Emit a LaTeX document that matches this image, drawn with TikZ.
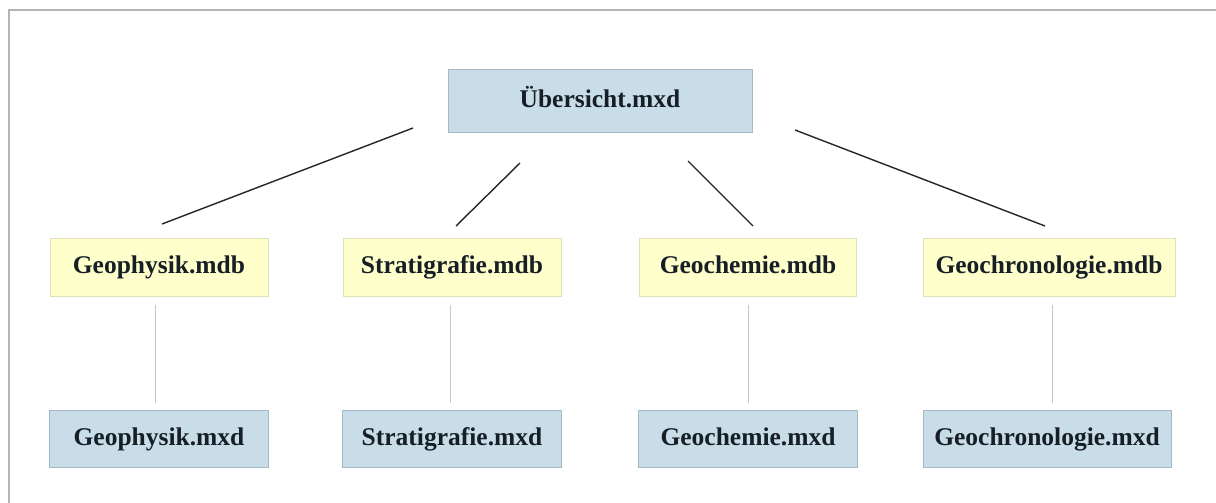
\documentclass[tikz,border=0pt]{standalone}
\usepackage{fontspec}
\setmainfont{Liberation Serif}
\usetikzlibrary{positioning}
\definecolor{boxblue}{RGB}{201,221,232}
\definecolor{blueedge}{RGB}{165,185,198}
\definecolor{boxyellow}{RGB}{255,255,204}
\definecolor{yellowedge}{RGB}{225,225,185}
\definecolor{txt}{RGB}{22,30,38}
\definecolor{frame}{RGB}{180,180,180}
\tikzset{
  base/.style={inner sep=0pt, font=\fontsize{25.5}{28}\selectfont\bfseries, text=txt, line width=0.8pt, text height=17pt, text depth=5pt},
  mxdbox/.style={base, fill=boxblue, draw=blueedge},
  mdbbox/.style={base, fill=boxyellow, draw=yellowedge},
  diag/.style={draw=black!85, line width=1.4pt},
  vert/.style={draw=black!22, line width=1pt},
}
\begin{document}
\begin{tikzpicture}[x=1pt,y=-1pt]
\useasboundingbox (0,0) rectangle (1216,503);
\fill[white] (0,0) rectangle (1216,503);
\draw[frame, line width=1.5pt] (9,503) -- (9,10) -- (1216,10);
% top
\node[mxdbox, minimum width=304, minimum height=63] (top) at (600,101) {Übersicht.mxd};
% databases
\node[mdbbox, minimum width=218, minimum height=58] (d1) at (159,267) {Geophysik.mdb};
\node[mdbbox, minimum width=218, minimum height=58] (d2) at (452,267) {Stratigrafie.mdb};
\node[mdbbox, minimum width=217, minimum height=58] (d3) at (748,267) {Geochemie.mdb};
\node[mdbbox, minimum width=252, minimum height=58] (d4) at (1049,267) {Geochronologie.mdb};
% maps
\node[mxdbox, minimum width=219, minimum height=57] (m1) at (159,439) {Geophysik.mxd};
\node[mxdbox, minimum width=219, minimum height=57] (m2) at (452,439) {Stratigrafie.mxd};
\node[mxdbox, minimum width=219, minimum height=57] (m3) at (748,439) {Geochemie.mxd};
\node[mxdbox, minimum width=248, minimum height=57] (m4) at (1047,439) {Geochronologie.mxd};
% connector ends
\coordinate (t1) at (413,128); \coordinate (b1) at (162,224);
\coordinate (t2) at (520,163); \coordinate (b2) at (456,226);
\coordinate (t3) at (688,161); \coordinate (b3) at (753,226);
\coordinate (t4) at (795,130); \coordinate (b4) at (1045,226);
\draw[diag] (t1) -- (b1);
\draw[diag] (t2) -- (b2);
\draw[diag] (t3) -- (b3);
\draw[diag] (t4) -- (b4);
\coordinate (v1a) at (155,305); \coordinate (v1b) at (155,403);
\coordinate (v2a) at (450,305); \coordinate (v2b) at (450,403);
\coordinate (v3a) at (748,305); \coordinate (v3b) at (748,403);
\coordinate (v4a) at (1052,305); \coordinate (v4b) at (1052,403);
\draw[vert] (v1a) -- (v1b);
\draw[vert] (v2a) -- (v2b);
\draw[vert] (v3a) -- (v3b);
\draw[vert] (v4a) -- (v4b);
\end{tikzpicture}
\end{document}
